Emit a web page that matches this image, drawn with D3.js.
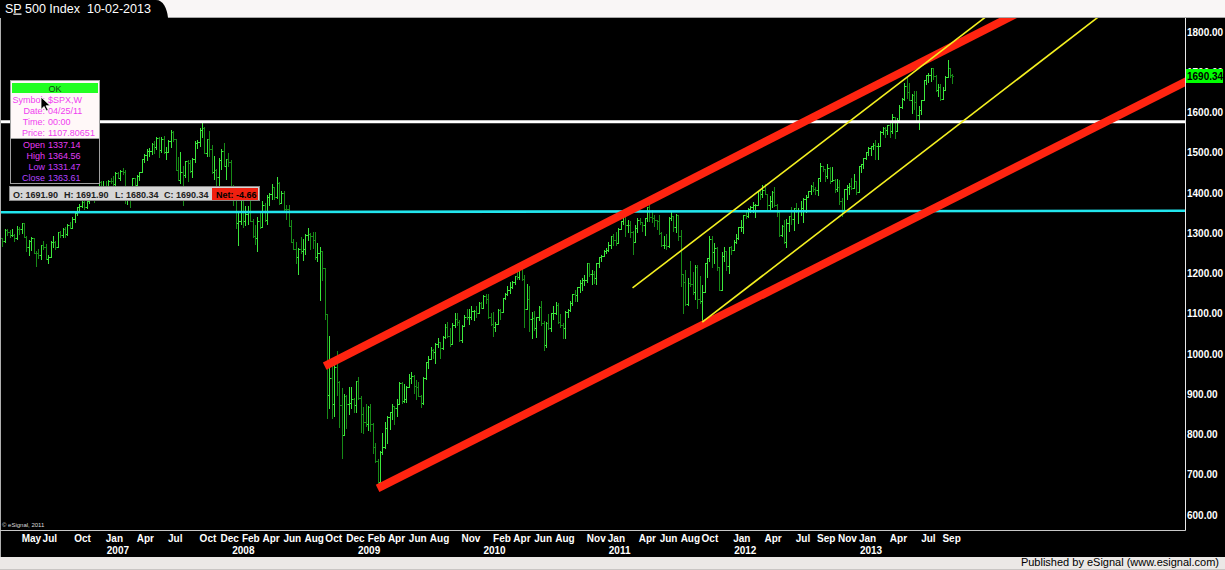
<!DOCTYPE html>
<html><head><meta charset="utf-8">
<script src="https://cdn.jsdelivr.net/npm/d3@7"></script>
<style>
html,body{margin:0;padding:0;background:#f9f6f6;overflow:hidden;}
svg{display:block;}
text{font-family:"Liberation Sans",Arial,sans-serif;}
</style></head><body>
<svg id="chart" width="1225" height="570"></svg>
<script>
// ---------- DATA (weekly bars, S&P 500, week of 2006-03-06 .. week of 2013-09-30) ----------
const firstWeek = "2006-03-06";
const opens = [
1287,1281,1307,1302,1295,1295,1289,1311,1310,1325,1291,1267,1280,1288,1252,1251,1245,1270,1265,1236,1240,1278,1279,1266,1302,1295,1311,1299,1320,1314,1336,1350,1366,1368,1377,1364,1380,1401,1400,1396,1409,1427,1410,
1418,1409,1431,1430,1423,1449,1438,1455,1451,1387,1402,1386,1437,1421,1443,1452,1484,1494,1505,1505,1522,1515,1536,1507,1533,1503,1503,1530,1552,1534,1458,1433,1453,1445,1479,1474,1454,1484,1525,1527,1557,1561,1500,1535,1509,1453,1458,1440,1481,1504,1468,1484,
1478,1411,1401,1325,1330,1396,1331,1349,1353,1331,1294,1288,1330,1316,1370,1333,1390,1398,1414,1389,1426,1375,1400,1361,1360,1318,1278,1262,1240,1261,1257,1260,1296,1298,1292,1283,1242,1252,1255,1213,1099,899,940,877,968,930,873,800,896,876,879,887,873,
932,890,850,832,826,869,827,770,735,683,756,769,816,843,857,870,866,877,929,882,887,919,940,946,921,918,896,879,940,979,987,1010,1005,1026,1029,1016,1042,1068,1044,1025,1071,1087,1080,1036,1069,1093,1091,1091,1106,1106,1102,1127,
1115,1145,1136,1092,1074,1066,1075,1109,1105,1138,1150,1160,1167,1178,1194,1192,1217,1187,1111,1136,1088,1089,1065,1092,1117,1076,1022,1078,1065,1102,1102,1122,1079,1071,1065,1105,1110,1126,1149,1147,1166,1177,1183,1183,1226,1200,1200,1190,1225,1240,1244,1257,
1258,1272,1293,1284,1276,1311,1330,1343,1320,1321,1304,1279,1313,1332,1328,1320,1337,1364,1340,1338,1333,1331,1300,1271,1271,1268,1339,1344,1316,1345,1292,1199,1179,1124,1177,1174,1154,1216,1136,1131,1155,1225,1238,1285,1253,1264,1216,1159,1244,1255,1219,1265,
1258,1278,1289,1315,1316,1345,1343,1361,1366,1370,1371,1404,1397,1408,1398,1370,1379,1403,1369,1353,1295,1318,1278,1325,1343,1335,1362,1355,1357,1363,1386,1391,1405,1418,1411,1407,1438,1466,1460,1441,1461,1429,1433,1411,1414,1380,1359,1409,1416,1418,1413,1430,
1402,1466,1472,1486,1503,1513,1518,1520,1516,1518,1551,1561,1556,1569,1553,1588,1555,1582,1614,1633,1667,1650,1631,1643,1626,1593,1606,1632,1680,1692,1692,1710,1691,1656,1664,1633,1655,1688,1710,1692];
const highs = [
1288,1310,1310,1307,1311,1298,1318,1316,1326,1326,1294,1282,1290,1288,1257,1260,1272,1281,1274,1246,1280,1292,1280,1304,1305,1312,1316,1322,1328,1340,1353,1366,1372,1390,1381,1389,1403,1407,1407,1415,1431,1430,1431,
1429,1432,1437,1441,1452,1452,1456,1461,1456,1410,1409,1438,1437,1445,1453,1484,1498,1510,1513,1523,1530,1540,1540,1538,1541,1514,1531,1556,1555,1535,1489,1503,1466,1480,1481,1481,1487,1530,1531,1561,1576,1564,1535,1553,1520,1492,1460,1488,1510,1523,1485,1500,
1482,1420,1416,1350,1397,1396,1368,1367,1388,1335,1321,1341,1353,1380,1375,1395,1399,1422,1416,1440,1427,1406,1404,1371,1371,1334,1285,1278,1263,1290,1285,1297,1314,1301,1304,1303,1275,1266,1256,1214,1099,1044,985,984,1007,932,916,900,897,918,918,890,934,
943,895,869,877,870,877,828,780,740,758,804,832,845,857,876,871,888,930,930,925,920,951,956,948,935,931,898,943,980,996,1018,1013,1027,1040,1031,1045,1074,1080,1064,1076,1101,1101,1085,1072,1097,1113,1112,1120,1110,1119,1130,1130,
1146,1150,1150,1103,1105,1080,1112,1112,1139,1151,1170,1180,1181,1195,1214,1218,1220,1196,1174,1170,1104,1106,1093,1120,1131,1082,1079,1100,1103,1120,1129,1127,1100,1077,1106,1111,1131,1149,1158,1167,1184,1190,1196,1227,1226,1208,1205,1227,1241,1247,1259,1263,
1278,1294,1297,1302,1312,1331,1344,1345,1333,1330,1306,1320,1337,1339,1329,1338,1366,1370,1359,1346,1334,1346,1304,1292,1298,1341,1356,1344,1347,1345,1307,1199,1208,1190,1230,1204,1221,1220,1195,1171,1225,1239,1293,1292,1277,1266,1216,1254,1267,1256,1266,1268,
1284,1297,1315,1333,1345,1354,1363,1368,1378,1373,1406,1409,1420,1422,1398,1392,1406,1415,1372,1355,1321,1334,1335,1343,1364,1363,1375,1362,1380,1387,1395,1406,1419,1427,1414,1438,1475,1467,1460,1471,1465,1465,1436,1434,1433,1388,1409,1420,1424,1438,1448,1430,
1467,1473,1486,1503,1514,1518,1525,1531,1525,1553,1564,1564,1570,1574,1597,1588,1586,1618,1635,1673,1687,1674,1646,1654,1654,1616,1632,1681,1693,1698,1710,1710,1693,1670,1670,1664,1691,1730,1711,1696];
const lows = [
1268,1279,1295,1290,1292,1280,1285,1297,1300,1290,1256,1245,1259,1250,1219,1238,1237,1262,1235,1225,1240,1265,1262,1266,1291,1290,1290,1296,1312,1314,1327,1345,1359,1366,1360,1363,1375,1398,1377,1394,1404,1408,1410,
1404,1403,1426,1416,1420,1437,1433,1446,1375,1373,1364,1385,1414,1420,1433,1451,1477,1481,1491,1498,1500,1510,1490,1501,1500,1484,1503,1515,1530,1457,1432,1426,1370,1440,1430,1452,1439,1476,1512,1518,1540,1500,1491,1492,1450,1436,1416,1406,1460,1467,1435,1467,
1411,1370,1312,1270,1322,1316,1321,1324,1330,1290,1274,1257,1312,1315,1331,1324,1370,1384,1384,1387,1372,1374,1359,1335,1317,1278,1261,1225,1200,1250,1234,1248,1283,1261,1264,1236,1232,1133,1185,1087,840,866,840,845,899,818,741,801,815,851,867,857,857,
888,805,804,821,812,808,754,731,667,672,751,767,780,814,838,826,846,877,878,880,880,917,929,903,888,896,869,875,938,965,987,990,978,1018,991,1013,1040,1041,1019,1025,1068,1073,1033,1029,1069,1086,1074,1086,1085,1093,1103,1114,
1115,1126,1090,1071,1044,1056,1075,1086,1105,1136,1147,1152,1165,1175,1186,1187,1183,1066,1111,1056,1040,1060,1043,1085,1071,1011,1018,1063,1056,1088,1100,1076,1066,1040,1039,1091,1106,1122,1132,1132,1155,1159,1171,1179,1195,1173,1177,1173,1217,1232,1244,1250,
1256,1263,1271,1270,1276,1310,1324,1294,1302,1291,1249,1279,1304,1322,1306,1295,1331,1330,1329,1318,1311,1298,1268,1263,1262,1267,1333,1306,1303,1282,1169,1101,1121,1122,1170,1150,1137,1114,1127,1074,1154,1191,1231,1215,1226,1209,1158,1158,1231,1209,1202,1248,
1258,1275,1286,1306,1300,1337,1340,1352,1354,1340,1370,1386,1391,1397,1357,1358,1366,1368,1343,1292,1292,1277,1267,1306,1324,1309,1352,1326,1345,1329,1354,1391,1397,1406,1398,1396,1429,1454,1430,1438,1425,1429,1403,1405,1373,1343,1359,1385,1398,1411,1421,1398,
1402,1451,1461,1485,1495,1495,1509,1485,1485,1516,1547,1538,1546,1539,1548,1536,1553,1581,1612,1630,1636,1630,1598,1608,1577,1560,1597,1632,1672,1677,1679,1684,1654,1640,1630,1633,1655,1692,1687,1674];
const closes = [
1281,1307,1302,1295,1295,1289,1311,1310,1325,1291,1267,1280,1288,1252,1251,1245,1270,1265,1236,1240,1278,1279,1266,1302,1295,1311,1299,1320,1314,1336,1350,1366,1368,1377,1364,1380,1401,1400,1396,1409,1427,1410,1418,
1409,1431,1430,1423,1449,1438,1455,1451,1387,1402,1386,1437,1421,1443,1452,1484,1494,1505,1505,1522,1515,1536,1507,1533,1503,1503,1530,1552,1534,1458,1433,1453,1445,1479,1474,1454,1484,1525,1527,1557,1561,1500,1535,1509,1453,1458,1440,1481,1504,1468,1484,1478,
1411,1401,1325,1330,1396,1331,1349,1353,1331,1294,1288,1330,1316,1370,1333,1390,1398,1414,1389,1426,1375,1400,1361,1360,1318,1278,1262,1240,1261,1257,1260,1296,1298,1292,1283,1242,1252,1255,1213,1099,899,940,877,968,930,873,800,896,876,879,887,873,932,
890,850,832,826,869,827,770,735,683,756,769,816,843,857,870,866,877,929,882,887,919,940,946,921,918,896,879,940,979,987,1010,1005,1026,1029,1016,1042,1068,1044,1025,1071,1087,1080,1036,1069,1093,1091,1091,1106,1106,1102,1127,1115,
1145,1136,1092,1074,1066,1075,1109,1105,1138,1150,1160,1167,1178,1194,1192,1217,1187,1111,1136,1088,1089,1065,1092,1117,1076,1022,1078,1065,1102,1102,1122,1079,1071,1065,1105,1110,1126,1149,1147,1166,1177,1183,1183,1226,1200,1200,1190,1225,1240,1244,1257,1258,
1272,1293,1284,1276,1311,1330,1343,1320,1321,1304,1279,1313,1332,1328,1320,1337,1364,1340,1338,1333,1331,1300,1271,1271,1268,1339,1344,1316,1345,1292,1199,1179,1124,1177,1174,1154,1216,1136,1131,1155,1225,1238,1285,1253,1264,1216,1159,1244,1255,1219,1265,1258,
1278,1289,1315,1316,1345,1343,1361,1366,1370,1371,1404,1397,1408,1398,1370,1379,1403,1369,1353,1295,1318,1278,1325,1343,1335,1362,1355,1357,1363,1386,1391,1405,1418,1411,1407,1438,1466,1460,1441,1461,1429,1433,1411,1414,1380,1359,1409,1416,1418,1413,1430,1402,
1466,1472,1486,1503,1513,1518,1520,1516,1518,1551,1561,1556,1569,1553,1588,1555,1582,1614,1633,1667,1650,1631,1643,1626,1593,1606,1632,1680,1692,1692,1710,1691,1656,1664,1633,1655,1688,1710,1692,1690];

const priceTicks = [600,700,800,900,1000,1100,1200,1300,1400,1500,1600,1700,1800];
const monthTicks = ["2006-05-01","2006-07-01","2006-10-01","2007-01-01","2007-04-01","2007-07-01","2007-10-01","2007-12-01",
  "2008-02-01","2008-04-01","2008-06-01","2008-08-01","2008-10-01","2008-12-01","2009-02-01","2009-04-01","2009-06-01",
  "2009-08-01","2009-11-01","2010-02-01","2010-04-01","2010-06-01","2010-08-01","2010-11-01","2011-01-01","2011-04-01",
  "2011-06-01","2011-08-01","2011-10-01","2012-01-01","2012-04-01","2012-07-01","2012-09-01","2012-11-01","2013-01-01",
  "2013-04-01","2013-07-01","2013-09-01"];
const yearTicks = ["2007-01-01","2008-01-01","2009-01-01","2010-01-01","2011-01-01","2012-01-01","2013-01-01"];
const lastPrice = 1690.34;
const whiteLevel = 1577;
const cyanLevels = [1352, 1356];            // left edge, right edge
const redUpper = [["2008-09-29", 970], ["2013-03-04", 1673]];
const redLower = [["2009-03-02", 666], ["2013-09-30", 1385]];
const yellowUpper = [["2011-03-14", 1164], ["2013-09-30", 1774]];
const yellowLower = [["2011-10-03", 1079], ["2013-09-30", 1558]];
const titleParts = ["S", "P", " 500 Index\u00a0\u00a010-02-2013"];
const infoTop = [["Symbol:", "$SPX,W"], ["Date:", "04/25/11"], ["Time:", "00:00"], ["Price:", "1107.80651"]];
const infoBottom = [["Open", "1337.14"], ["High", "1364.56"], ["Low", "1331.47"], ["Close", "1363.61"]];
const statusItems = ["O: 1691.90", "H: 1691.90", "L: 1680.34", "C: 1690.34"];
const statusNet = "Net: -4.66";

// ---------- LAYOUT ----------
const W = 1225, H = 570;
const plot = {left: 0, right: 1185, top: 18, bottom: 530};
const svg = d3.select("#chart");
const parse = d3.utcParse("%Y-%m-%d");
const weeks = d3.utcMonday.range(parse(firstWeek), d3.utcMonday.offset(parse(firstWeek), closes.length));
const x = d3.scaleUtc().domain([weeks[0], weeks[weeks.length - 1]]).range([2.4, 952.4]);
const y = d3.scaleLinear().domain([600, 1800]).range([515, 32]);

// backgrounds
svg.append("rect").attr("x", 0).attr("y", 0).attr("width", W).attr("height", 18).attr("fill", "#f9f6f6");
svg.append("line").attr("x1", 160).attr("x2", W).attr("y1", 17.5).attr("y2", 17.5).attr("stroke", "#a8a8a8");
svg.append("rect").attr("x", 0).attr("y", 18).attr("width", W).attr("height", 539).attr("fill", "#000");
svg.append("rect").attr("x", 0).attr("y", 557).attr("width", W).attr("height", 13).attr("fill", "#ebe8e6");
svg.append("line").attr("x1", 0).attr("x2", W).attr("y1", 569.5).attr("y2", 569.5).attr("stroke", "#c8c5c3");

// title tab
svg.append("path").attr("d", "M0,0H156C163,0 167,8 168,18H0Z").attr("fill", "#000");
const title = svg.append("text").attr("x", 5).attr("y", 12.5).attr("fill", "#fff")
  .style("font-size", "12.5px").attr("textLength", 146).attr("lengthAdjust", "spacingAndGlyphs");
title.append("tspan").text(titleParts[0]);
title.append("tspan").attr("text-decoration", "underline").text(titleParts[1]);
title.append("tspan").text(titleParts[2]);

// clip
svg.append("defs").append("clipPath").attr("id", "clip").append("rect")
  .attr("x", plot.left).attr("y", plot.top).attr("width", plot.right - plot.left).attr("height", plot.bottom - plot.top);
const g = svg.append("g").attr("clip-path", "url(#clip)");

// bars
const bars = g.append("g").attr("shape-rendering", "crispEdges");
weeks.forEach((d, i) => {
  const o = opens[i], h = highs[i], l = lows[i], c = closes[i];
  const col = c >= o ? "#3be83b" : "#178a17";
  const X = Math.round(x(d));
  const yt = Math.round(y(Math.max(h, o, c))), yb = Math.round(y(Math.min(l, o, c)));
  bars.append("rect").attr("x", X).attr("y", yt).attr("width", 1).attr("height", yb - yt + 1).attr("fill", col);
  bars.append("rect").attr("x", X - 1).attr("y", Math.round(y(o))).attr("width", 1).attr("height", 1).attr("fill", col);
  bars.append("rect").attr("x", X + 1).attr("y", Math.round(y(c))).attr("width", 1).attr("height", 1).attr("fill", col);
});

// horizontal levels
const xl = x.invert(plot.left), xr = x.invert(plot.right);
const line = d3.line().x(d => x(d[0])).y(d => y(d[1]));
g.append("path").datum([[xl, whiteLevel], [xr, whiteLevel]]).attr("d", line)
  .attr("stroke", "#ffffff").attr("stroke-width", 3).attr("fill", "none");
g.append("path").datum([[xl, cyanLevels[0]], [xr, cyanLevels[1]]]).attr("d", line)
  .attr("stroke", "#22e6ee").attr("stroke-width", 2.6).attr("fill", "none");

// trend lines, extended to the right edge
const farDate = x.invert(plot.right + 200);
function extend(seg) {
  const a = [parse(seg[0][0]), seg[0][1]], b = [parse(seg[1][0]), seg[1][1]];
  const slope = (b[1] - a[1]) / (b[0] - a[0]);
  return [a, [farDate, a[1] + slope * (farDate - a[0])]];
}
[redUpper, redLower].forEach(seg => {
  g.append("path").datum(extend(seg)).attr("d", line)
    .attr("stroke", "#ff2410").attr("stroke-width", 8).attr("fill", "none");
});
[yellowUpper, yellowLower].forEach(seg => {
  g.append("path").datum(extend(seg)).attr("d", line)
    .attr("stroke", "#f4f020").attr("stroke-width", 1.6).attr("fill", "none");
});

// plot border
svg.append("line").attr("x1", 0.5).attr("x2", 0.5).attr("y1", 18).attr("y2", 557).attr("stroke", "#b0b0b0");
svg.append("line").attr("x1", 0).attr("x2", plot.right + 0.5).attr("y1", plot.bottom + 0.5).attr("y2", plot.bottom + 0.5).attr("stroke", "#c8c8c8");
svg.append("line").attr("x1", plot.right + 0.5).attr("x2", plot.right + 0.5).attr("y1", 18).attr("y2", plot.bottom + 0.5).attr("stroke", "#e8e8e8");

// right price axis
const yAxis = svg.append("g").attr("transform", `translate(${plot.right},0)`)
  .call(d3.axisRight(y).tickValues(priceTicks).tickSize(0).tickPadding(2).tickFormat(d3.format(".2f")));
yAxis.select(".domain").remove();
yAxis.selectAll("text").attr("fill", "#fff").style("font-size", "10px").style("font-weight", "bold")
  .style("font-family", "'Liberation Sans', Arial, sans-serif");

// last price flag
svg.append("rect").attr("x", plot.right + 1).attr("y", Math.round(y(lastPrice)) - 7).attr("width", 37).attr("height", 14).attr("fill", "#00ff00");
svg.append("text").attr("x", plot.right + 2).attr("y", y(lastPrice)).attr("dy", "0.35em").attr("fill", "#000")
  .style("font-size", "10px").style("font-weight", "bold").text(d3.format(".2f")(lastPrice));

// bottom time axis
svg.append("g").selectAll("text").data(monthTicks).join("text")
  .attr("x", d => x(parse(d))).attr("y", 542).attr("fill", "#fff")
  .style("font-size", "10px").style("font-weight", "bold")
  .text(d => d3.utcFormat("%b")(parse(d)));
svg.append("g").selectAll("text").data(yearTicks).join("text")
  .attr("x", d => x(parse(d)) + 1).attr("y", 554).attr("fill", "#fff")
  .style("font-size", "10px").style("font-weight", "bold")
  .text(d => d3.utcFormat("%Y")(parse(d)));

svg.append("text").attr("x", 2).attr("y", 527).attr("fill", "#ddd").style("font-size", "6px").text("\u00a9 eSignal, 2011");
svg.append("text").attr("x", 1219).attr("y", 566).attr("text-anchor", "end").attr("fill", "#000")
  .style("font-size", "11px").text("Published by eSignal (www.esignal.com)");

// info box
const box = svg.append("g");
box.append("rect").attr("x", 10.5).attr("y", 80.5).attr("width", 89).attr("height", 103).attr("fill", "#fff8f8").attr("stroke", "#a0a0a0");
box.append("rect").attr("x", 12).attr("y", 83).attr("width", 86).attr("height", 10).attr("fill", "#22ff22");
box.append("text").attr("x", 55).attr("y", 91.5).attr("text-anchor", "middle").attr("fill", "#124012").style("font-size", "9px").text("OK");
box.append("rect").attr("x", 11).attr("y", 139).attr("width", 88).attr("height", 44).attr("fill", "#000");
box.append("line").attr("x1", 11).attr("x2", 99).attr("y1", 138.5).attr("y2", 138.5).attr("stroke", "#a0a0a0");
infoTop.forEach((r, i) => {
  const yy = 103 + i * 11;
  box.append("text").attr("x", 45).attr("y", yy).attr("text-anchor", "end").attr("fill", "#f040f0").style("font-size", "9px").text(r[0]);
  box.append("text").attr("x", 48).attr("y", yy).attr("fill", "#f040f0").style("font-size", "9px").text(r[1]);
});
const lowerCols = ["#e83cf0", "#e03cf6", "#c83cfc", "#b444ff"];
infoBottom.forEach((r, i) => {
  const yy = 148 + i * 11;
  box.append("text").attr("x", 45).attr("y", yy).attr("text-anchor", "end").attr("fill", lowerCols[i]).style("font-size", "9px").text(r[0]);
  box.append("text").attr("x", 48).attr("y", yy).attr("fill", lowerCols[i]).style("font-size", "9px").text(r[1]);
});
// mouse cursor
box.append("path").attr("d", "M41,97v12.5l3,-3l2.5,4.5l1.8,-0.8l-2.3,-4.4h4.3Z").attr("fill", "#000").attr("stroke", "#fff").attr("stroke-width", 0.8);

// status bar
const sb = svg.append("g");
sb.append("rect").attr("x", 9.5).attr("y", 186.5).attr("width", 250).attr("height", 14).attr("fill", "#d6d6d6").attr("stroke", "#8a8a8a");
const sx = [13, 64, 115, 164];
statusItems.forEach((t, i) => {
  sb.append("text").attr("x", sx[i]).attr("y", 197.5).attr("fill", "#202020").style("font-size", "9px").style("font-weight", "bold").text(t);
});
sb.append("rect").attr("x", 212).attr("y", 188).attr("width", 46).attr("height", 12).attr("fill", "#f02010");
sb.append("text").attr("x", 216).attr("y", 197.5).attr("fill", "#000").style("font-size", "9px").style("font-weight", "bold").text(statusNet);
</script>
</body></html>
